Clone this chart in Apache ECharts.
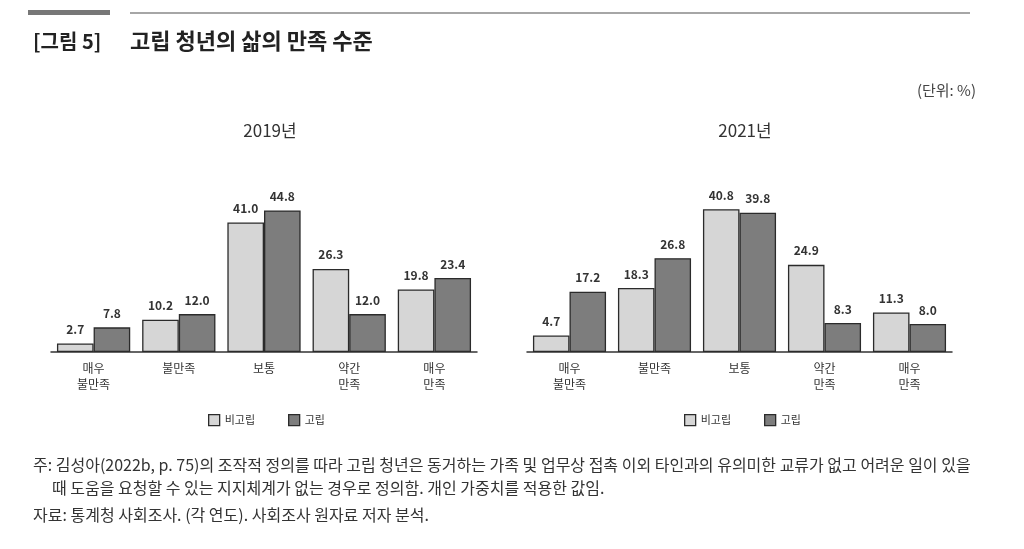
<!DOCTYPE html>
<html><head><meta charset="utf-8">
<script src="https://cdn.jsdelivr.net/npm/echarts@6/dist/echarts.min.js"></script>
<style>html,body{margin:0;padding:0;background:#fff}#c{width:1024px;height:549px}</style>
</head><body><div id="c"></div>
<script>
const categories = ['매우\n불만족', '불만족', '보통', '약간\n만족', '매우\n만족'];
const seriesNames = ['비고립', '고립'];
const nonIsolated2019 = [2.7, 10.2, 41.0, 26.3, 19.8];
const isolated2019 = [7.8, 12.0, 44.8, 12.0, 23.4];
const nonIsolated2021 = [4.7, 18.3, 40.8, 24.9, 11.3];
const isolated2021 = [17.2, 26.8, 39.8, 8.3, 8.0];
const panelTitles = ['2019년', '2021년'];
const figTitle = '[그림 5]';
const figSubtitle = '고립 청년의 삶의 만족 수준';
const unitText = '(단위: %)';
const notes = [
  '주: 김성아(2022b, p. 75)의 조작적 정의를 따라 고립 청년은 동거하는 가족 및 업무상 접촉 이외 타인과의 유의미한 교류가 없고 어려운 일이 있을',
  '때 도움을 요청할 수 있는 지지체계가 없는 경우로 정의함. 개인 가중치를 적용한 값임.',
  '자료: 통계청 사회조사. (각 연도). 사회조사 원자료 저자 분석.'
];

const FONT = '"Noto Sans CJK KR", "Noto Sans", sans-serif';
const LIGHT = '#d6d6d6', DARK = '#7d7d7d', EDGE = '#2b2b2b';

function bar(name, data, idx, color) {
  return {
    name, type: 'bar', data, xAxisIndex: idx, yAxisIndex: idx,
    barGap: '0%', barCategoryGap: '14%',
    itemStyle: { color, borderColor: EDGE, borderWidth: 1.3 },
    label: { show: true, position: 'top', distance: 8, color: '#333', fontSize: 12, fontWeight: 'bold', fontFamily: FONT,
      formatter: p => p.value.toFixed(1) },
    emphasis: { disabled: true }
  };
}
function xAx(idx) {
  return { type: 'category', gridIndex: idx, data: categories,
    axisLine: { lineStyle: { color: '#333', width: 1.5 } }, axisTick: { show: false },
    axisLabel: { color: '#333', fontSize: 12, lineHeight: 16, margin: 8, fontFamily: FONT, interval: 0 } };
}
function yAx(idx) {
  return { type: 'value', gridIndex: idx, min: 0, max: 50, show: false, splitLine: { show: false } };
}
const chart = echarts.init(document.getElementById('c'));
chart.setOption({
  animation: false,
  textStyle: { fontFamily: FONT },
  grid: [
    { left: 51, right: 547, top: 194, bottom: 197 },
    { left: 527, right: 72, top: 177, bottom: 197 }
  ],
  xAxis: [xAx(0), xAx(1)],
  yAxis: [yAx(0), yAx(1)],
  title: [
    { text: panelTitles[0], left: 265, top: 117, textAlign: 'center', textStyle: { fontSize: 17, fontWeight: 'normal', color: '#333', fontFamily: FONT } },
    { text: panelTitles[1], left: 740, top: 117, textAlign: 'center', textStyle: { fontSize: 17, fontWeight: 'normal', color: '#333', fontFamily: FONT } }
  ],
  legend: [
    { data: seriesNames, left: 203, top: 409, icon: 'rect', itemWidth: 11, itemHeight: 11, itemGap: 33,
      itemStyle: { borderColor: EDGE, borderWidth: 1.3 }, textStyle: { fontSize: 11, color: '#333', fontFamily: FONT }, selectedMode: false },
    { data: seriesNames, left: 679, top: 409, icon: 'rect', itemWidth: 11, itemHeight: 11, itemGap: 33,
      itemStyle: { borderColor: EDGE, borderWidth: 1.3 }, textStyle: { fontSize: 11, color: '#333', fontFamily: FONT }, selectedMode: false }
  ],
  series: [
    bar(seriesNames[0], nonIsolated2019, 0, LIGHT),
    bar(seriesNames[1], isolated2019, 0, DARK),
    bar(seriesNames[0], nonIsolated2021, 1, LIGHT),
    bar(seriesNames[1], isolated2021, 1, DARK)
  ],
  graphic: [
    { type: 'rect', shape: { x: 28, y: 10, width: 82, height: 5 }, style: { fill: '#777' } },
    { type: 'line', shape: { x1: 130, y1: 13, x2: 970, y2: 13 }, style: { stroke: '#888', lineWidth: 1.5 } },
    { type: 'text', x: 33, y: 31, style: { text: figTitle, fontSize: 20, fontWeight: 'bold', fill: '#222', fontFamily: FONT } },
    { type: 'text', x: 130, y: 30, style: { text: figSubtitle, fontSize: 22, fontWeight: 'bold', fill: '#222', fontFamily: FONT } },
    { type: 'text', x: 976, y: 83, style: { text: unitText, fontSize: 15, fill: '#444', align: 'right', fontFamily: FONT } },
    { type: 'text', x: 33, y: 457, style: { text: notes[0], fontSize: 16, fill: '#333', fontFamily: FONT } },
    { type: 'text', x: 52, y: 480, style: { text: notes[1], fontSize: 16, fill: '#333', fontFamily: FONT } },
    { type: 'text', x: 33, y: 507, style: { text: notes[2], fontSize: 16, fill: '#333', fontFamily: FONT } }
  ]
});
</script></body></html>
